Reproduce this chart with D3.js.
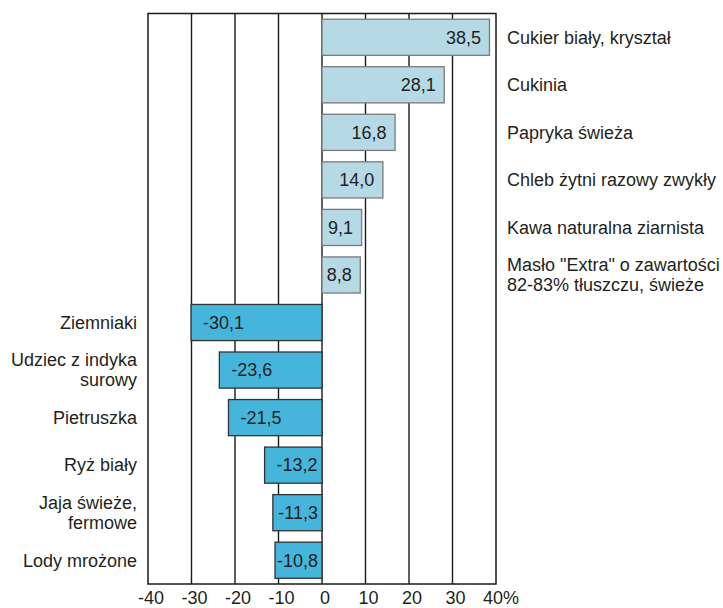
<!DOCTYPE html>
<html>
<head>
<meta charset="utf-8">
<script src="https://cdn.jsdelivr.net/npm/d3@7"></script>
<style>
  html, body { margin: 0; padding: 0; background: #fff; }
  svg { display: block; }
  text { font-family: "Liberation Sans", Arial, Helvetica, sans-serif; fill: #231f20; }
</style>
</head>
<body>
<svg id="chart" width="723" height="608"></svg>
<script>
const categories = [
  "Cukier biały, kryształ",
  "Cukinia",
  "Papryka świeża",
  "Chleb żytni razowy zwykły",
  "Kawa naturalna ziarnista",
  "Masło \"Extra\" o zawartości\n82-83% tłuszczu, świeże",
  "Ziemniaki",
  "Udziec z indyka\nsurowy",
  "Pietruszka",
  "Ryż biały",
  "Jaja świeże,\nfermowe",
  "Lody mrożone"
];
const values = [38.5, 28.1, 16.8, 14.0, 9.1, 8.8, -30.1, -23.6, -21.5, -13.2, -11.3, -10.8];
const tickValues = [-40, -30, -20, -10, 0, 10, 20, 30, 40];
const tickLabels = ["-40", "-30", "-20", "-10", "0", "10", "20", "30", "40%"];

(function () {
const svg = d3.select("#chart");
const pLeft = 148, pRight = 496, pTop = 13.5, pBottom = 584;
const fontSize = 18;

const x = d3.scaleLinear().domain([-40, 40]).range([pLeft, pRight]);
const y = d3.scaleBand().domain(categories).range([pTop, pBottom])
  .paddingInner(0.24).paddingOuter(0.12);

const fmt = v => (v < 0 ? "-" : "") + Math.abs(v).toFixed(1).replace(".", ",");

// gridlines
svg.append("g").selectAll("line")
  .data(tickValues.filter(t => t > -40 && t < 40))
  .join("line")
  .attr("x1", d => x(d)).attr("x2", d => x(d))
  .attr("y1", pTop).attr("y2", pBottom)
  .attr("stroke", "#1a1a1a").attr("stroke-width", 1.4);

// bars
const data = categories.map((c, i) => ({ c, v: values[i] }));
svg.append("g").selectAll("rect")
  .data(data)
  .join("rect")
  .attr("x", d => x(Math.min(0, d.v)))
  .attr("width", d => Math.abs(x(d.v) - x(0)))
  .attr("y", d => y(d.c))
  .attr("height", y.bandwidth())
  .attr("fill", d => d.v >= 0 ? "#b5d9e5" : "#46b5dc")
  .attr("stroke", d => d.v >= 0 ? "#7a7a7a" : "#333")
  .attr("stroke-width", 1.3);

// frame
svg.append("rect")
  .attr("x", pLeft).attr("y", pTop)
  .attr("width", pRight - pLeft).attr("height", pBottom - pTop)
  .attr("fill", "none").attr("stroke", "#1a1a1a").attr("stroke-width", 1.5);

// value labels
const vl = svg.append("g").selectAll("text")
  .data(data)
  .join("text")
  .attr("font-size", fontSize)
  .attr("y", d => y(d.c) + y.bandwidth() / 2)
  .attr("dy", "0.35em")
  .text(d => fmt(d.v));
vl.each(function (d) {
  const t = d3.select(this);
  if (d.v >= 0) {
    t.attr("text-anchor", "end").attr("x", x(d.v) - 8.5);
  } else {
    const w = this.getComputedTextLength();
    const xs = Math.min(x(d.v) + 12, x(0) - 4 - w);
    t.attr("text-anchor", "start").attr("x", xs);
  }
});

// category labels
const cl = svg.append("g").selectAll("text")
  .data(data)
  .join("text")
  .attr("font-size", fontSize)
  .attr("text-anchor", d => d.v >= 0 ? "start" : "end");
cl.each(function (d) {
  const lines = d.c.split("\n");
  const cy = y(d.c) + y.bandwidth() / 2;
  const lh = 20;
  const t = d3.select(this);
  lines.forEach((ln, i) => {
    t.append("tspan")
      .attr("x", d.v >= 0 ? 507 : 137)
      .attr("y", cy + (i - (lines.length - 1) / 2) * lh)
      .attr("dy", "0.35em")
      .text(ln);
  });
});

// axis tick labels
svg.append("g").selectAll("text")
  .data(tickValues)
  .join("text")
  .attr("font-size", fontSize)
  .attr("text-anchor", "middle")
  .attr("x", (d, i) => x(d) + (i === tickValues.length - 1 ? 5 : 3))
  .attr("y", 603.5)
  .text((d, i) => tickLabels[i]);
})();
</script>
</body>
</html>
